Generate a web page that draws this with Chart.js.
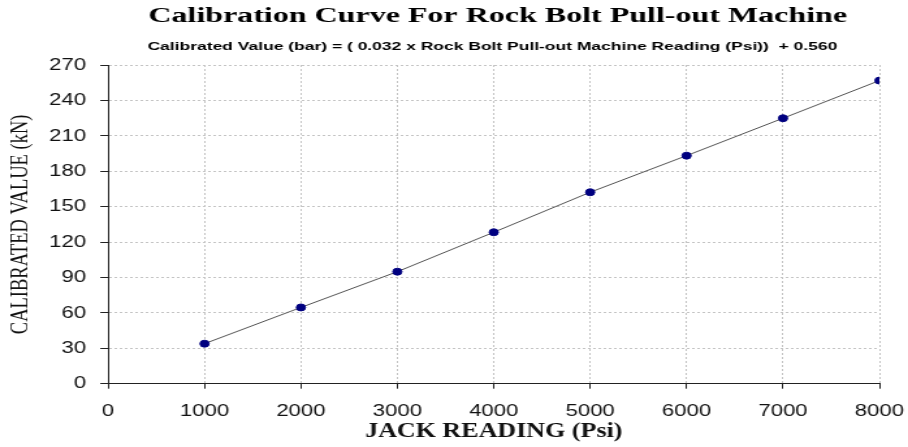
<!DOCTYPE html>
<html>
<head>
<meta charset="utf-8">
<script src="https://cdn.jsdelivr.net/npm/chart.js@4"></script>
<style>
    html, body { margin: 0; padding: 0; background: #ffffff; overflow: hidden; }
    /* the original picture is stretched sideways, so the chart is drawn narrow and widened */
    #wrap { position: absolute; left: 0; top: 0; width: 698px; height: 447px; transform: scaleX(1.3009); transform-origin: 0 0; }
</style>
</head>
<body>
<div id="wrap"><canvas id="chart1"></canvas></div>
<script>
const jackReading = [1000, 2000, 3000, 4000, 5000, 6000, 7000, 8000];
const calibratedValue = [33.9, 64.6, 94.9, 128.3, 162.2, 193.2, 224.9, 256.8];

const titleText = 'Calibration Curve For Rock Bolt Pull-out Machine';
const subtitleText = 'Calibrated Value (bar) = ( 0.032 x Rock Bolt Pull-out Machine Reading (Psi))  + 0.560';
const xTitle = 'JACK READING (Psi)';
const yTitle = 'CALIBRATED VALUE (kN)';

const points = jackReading.map((x, i) => ({ x: x, y: calibratedValue[i] }));

// titles are centred over the plot area, not over the whole canvas
const plotTitles = {
    id: 'plotTitles',
    afterDraw(chart) {
        const ctx = chart.ctx;
        const cx = (chart.chartArea.left + chart.chartArea.right) / 2;
        ctx.save();
        ctx.fillStyle = '#000000';
        ctx.textAlign = 'center';
        ctx.textBaseline = 'middle';

        ctx.save();
        ctx.translate(cx + 3, 17);
        ctx.scale(1.23, 1);
        ctx.font = 'bold 20px "Liberation Serif", "Times New Roman", serif';
        ctx.fillText(titleText, 0, 0);
        ctx.restore();

        ctx.save();
        ctx.translate(cx - 1, 47);
        ctx.scale(1.22, 1);
        ctx.font = 'bold 11px "Liberation Sans", Arial, sans-serif';
        ctx.fillText(subtitleText, 0, 0);
        ctx.restore();

        ctx.restore();
    }
};

const ctx = document.getElementById('chart1').getContext('2d');

const calibrationChart = new Chart(ctx, {
    type: 'scatter',
    data: {
        datasets: [{
            label: 'Calibrated value',
            data: points,
            showLine: true,
            borderColor: '#555555',
            borderWidth: 1,
            pointRadius: 3.5,
            pointHoverRadius: 3.5,
            pointBackgroundColor: '#000080',
            pointBorderColor: '#000080',
            pointBorderWidth: 1
        }]
    },
    options: {
        responsive: true,
        maintainAspectRatio: false,
        animation: false,
        layout: { padding: { top: 65, right: 22, bottom: 0, left: 0 } },
        plugins: {
            legend: { display: false },
            tooltip: { enabled: false }
        },
        scales: {
            x: {
                type: 'linear',
                min: 0,
                max: 8000,
                afterFit: (scale) => {
                    scale.height = 63.3;
                    scale.paddingLeft = 0;
                    scale.paddingRight = 0;
                },
                ticks: {
                    stepSize: 1000,
                    color: '#111111',
                    padding: 12,
                    callback: (value) => String(value),
                    font: { family: '"Liberation Sans", Arial, sans-serif', size: 17 }
                },
                grid: { color: '#c4c4c4', lineWidth: 1, tickLength: 5, tickColor: '#222222', tickBorderDash: [] },
                border: { display: true, color: '#222222', width: 1, dash: [2, 2] },
                title: {
                    display: true,
                    text: xTitle,
                    color: '#111111',
                    padding: { top: 0, bottom: 3 },
                    font: { family: '"Liberation Serif", "Times New Roman", serif', size: 20, weight: 'bold' }
                }
            },
            y: {
                type: 'linear',
                min: 0,
                max: 270,
                afterFit: (scale) => { scale.width = 83.1; },
                ticks: {
                    stepSize: 30,
                    color: '#111111',
                    padding: 11,
                    font: { family: '"Liberation Sans", Arial, sans-serif', size: 17 }
                },
                grid: { color: '#c4c4c4', lineWidth: 1, tickLength: 6, tickColor: '#222222', tickBorderDash: [] },
                border: { display: true, color: '#222222', width: 1, dash: [2, 2] },
                title: {
                    display: true,
                    text: yTitle,
                    color: '#111111',
                    padding: { top: 5, bottom: 0 },
                    font: { family: '"Liberation Serif", "Times New Roman", serif', size: 18.5, weight: 'normal' }
                }
            }
        }
    },
    plugins: [plotTitles]
});
</script>
</body>
</html>
